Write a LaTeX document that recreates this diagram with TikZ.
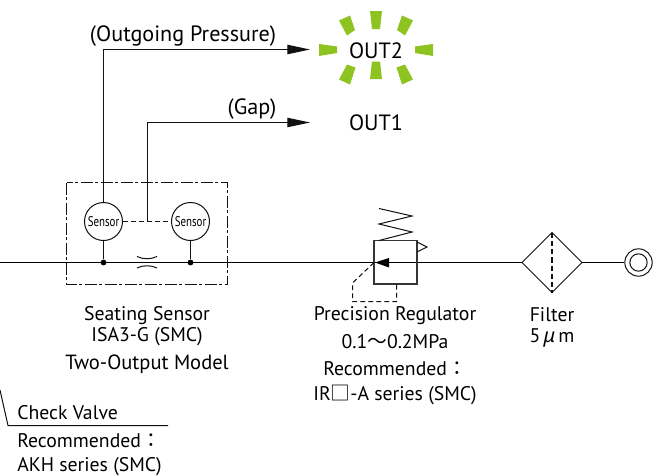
\documentclass[tikz,border=0pt]{standalone}
\usepackage{fontspec}
\setmainfont{PT Sans}
\newfontfamily\cjk{Noto Sans CJK JP}
\newfontfamily\gk{Noto Sans}
\usetikzlibrary{arrows.meta}
\definecolor{burst}{HTML}{8FC31F}
\definecolor{ln}{HTML}{111111}
\tikzset{
  pipe/.style={line width=1pt,draw=black},
  thin line/.style={line width=0.75pt,draw=ln},
  signal/.style={line width=0.85pt,draw=ln,-{Triangle[length=17pt,width=7pt]}},
  dashline/.style={line width=0.75pt,draw=ln,dash pattern=on 3.6pt off 2.4pt},
  filterdash/.style={line width=1.1pt,draw=ln,dash pattern=on 4pt off 2.2pt},
  boxdash/.style={line width=0.75pt,draw=ln,dash pattern=on 9pt off 2pt on 2pt off 2pt},
  lab/.style={font=\fontsize{14.8pt}{14.8pt}\selectfont,text=black,inner sep=0pt,anchor=center},
  big/.style={lab,font=\fontsize{16.6pt}{16.6pt}\selectfont},
  sensor/.style={circle,draw=ln,line width=0.75pt,minimum size=28.5pt,inner sep=0pt,fill=white,font=\fontsize{10.5pt}{10.5pt}\selectfont},
  ray/.style={fill=burst,draw=none},
  dot/.style={circle,fill=black,inner sep=0pt,minimum size=4.4pt},
}
\begin{document}
\begin{tikzpicture}[x=0.75pt,y=-0.75pt]
\useasboundingbox (0,0) rectangle (656,475);
\fill[white] (0,0) rectangle (656,475);
% main line
\coordinate (inlet) at (0,262.5);
\node[circle,draw=ln,line width=0.75pt,minimum size=20.5pt,inner sep=0pt] (port) at (638.5,262.5) {};
\node[circle,draw=ln,line width=0.75pt,minimum size=13pt,inner sep=0pt] (portin) at (638.5,262.5) {};
\coordinate (dl) at (522,262.5);
\coordinate (dr) at (582,262.5);
\coordinate (dt) at (552,232.5);
\coordinate (db) at (552,292.5);
\draw[pipe] (inlet) -- (dl);
\draw[pipe] (dr) -- (port);
\draw[thin line] (dl) -- (dt) -- (dr) -- (db) -- cycle;
\draw[filterdash] (dt) -- (db);
% sensor box
\draw[boxdash] (66.5,182.5) rectangle (227.5,284.5);
\node[sensor] (s1) at (103.5,221.5) {\scalebox{0.78}[1]{Sensor}};
\node[sensor] (s2) at (190.5,221.5) {\scalebox{0.78}[1]{Sensor}};
\node[dot] (j1) at (103.5,262.5) {};
\node[dot] (j2) at (190.5,262.5) {};
\draw[thin line] (s1) -- (j1);
\draw[thin line] (s2) -- (j2);
\draw[dashline] (s1) -- (s2);
\draw[thin line] (137,256.5) .. controls (143,259.5) and (151,259.5) .. (157,256.5);
\draw[thin line] (137,268) .. controls (143,265) and (151,265) .. (157,268);
% signals
\coordinate (o2t) at (310,49.5);
\coordinate (o1t) at (310,122.5);
\coordinate (gapb) at (147.5,221.5);
\draw[signal] (s1.north) -- (103.5,49.5) -- (o2t);
\draw[signal] (gapb) -- (147.5,122.5) -- (o1t);
\node[big] (lo) at (183,36) {(Outgoing Pressure)};
\node[big] (lg) at (252,109) {(Gap)};
\node[big] (out2) at (376,50.5) {OUT2};
\node[big] (out1) at (376,123) {OUT1};
% burst
\fill[ray] (370,11)--(382,11)--(380,29)--(372,29)--cycle;
\fill[ray] (370,79)--(382,79)--(380,61.5)--(372,61.5)--cycle;
\fill[ray] (319,44)--(337,46.5)--(337,53)--(319,56)--cycle;
\fill[ray] (433,44)--(415,46.5)--(415,53)--(433,56)--cycle;
\fill[ray] (339,20.5)--(350,15.5)--(355,30)--(347,35.5)--cycle;
\fill[ray] (413,20.5)--(402,15.5)--(397,30)--(405,35.5)--cycle;
\fill[ray] (339,79.5)--(350,84.5)--(355.5,67.5)--(347,64.5)--cycle;
\fill[ray] (413,79.5)--(402,84.5)--(396.5,67.5)--(405,64.5)--cycle;
% regulator
\draw[line width=1pt,draw=ln!85] (374,240.5) rectangle (417,284);
\draw[thin line] (379,208.5) -- (412,216) -- (379,224) -- (412,232) -- (379,240.5);
\draw[thin line] (417,242) -- (427,247) -- (417,252);
\fill[black] (375,262.5) -- (389,258) -- (389,267.5) -- cycle;
\draw[dashline] (374,262.5) -- (352.5,283) -- (352.5,301.5) -- (396.5,301.5) -- (396.5,284);
% labels
\node[lab] (a1) at (147,316) {Seating Sensor};
\node[lab] (a2) at (147,336.5) {ISA3-G (SMC)};
\node[lab,font=\fontsize{15.4pt}{15.4pt}\selectfont] (a3) at (147,364) {Two-Output Model};
\node[lab] (b1) at (395,316) {Precision Regulator};
\node[lab] (b2) at (395,342) {0.1{\cjk 〜}0.2MPa};
\node[lab] (b3) at (395,369) {Recommended{\cjk ：}};
\node[lab] (b4) at (395,395) {IR{\cjk □}-A series (SMC)};
\node[lab] (c1) at (552,315) {Filter};
\node[lab] (c2) at (552,338) {5{\gk\itshape\,μ\,}m};
% check valve
\coordinate (cv0) at (0,390);
\coordinate (cv1) at (8,425.5);
\coordinate (cv2) at (168,425.5);
\draw[thin line] (cv0) -- (cv1) -- (cv2);
\node[lab,anchor=west] (d1) at (17,413) {Check Valve};
\node[lab,anchor=west] (d2) at (17,441) {Recommended{\cjk ：}};
\node[lab,anchor=west] (d3) at (17,466.5) {AKH series (SMC)};
\end{tikzpicture}
\end{document}
